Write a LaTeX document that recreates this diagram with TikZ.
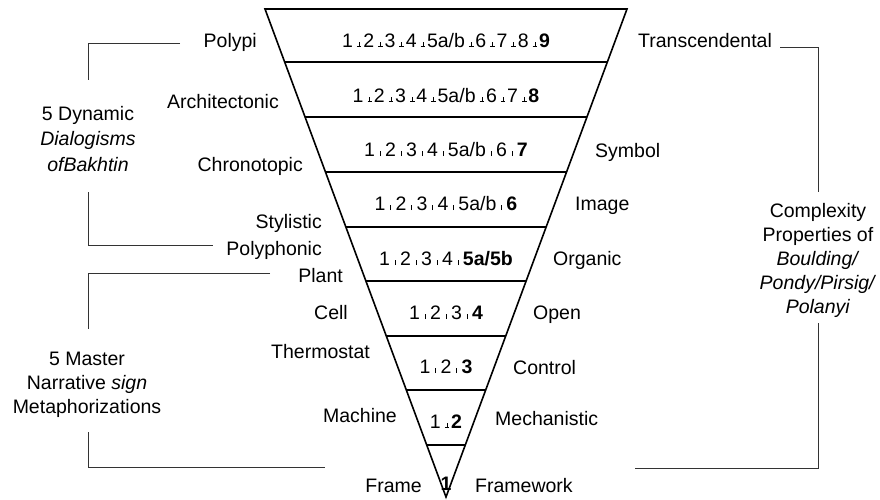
\documentclass[tikz,border=0pt]{standalone}
\usepackage{fontspec}
\setmainfont{Liberation Sans}

% small separators used between the level numbers
\newcommand{\tacksep}{\hspace{4pt}\rlap{\rule{4.6pt}{0.8pt}}\hspace{1.9pt}\rule{0.8pt}{4.6pt}\hspace{1.9pt}\hspace{1.8pt}}
\newcommand{\ticksep}{\hspace{4.8pt}\rule{0.9pt}{4.6pt}\hspace{4.4pt}}

\tikzset{
  lab/.style={font=\fontsize{19.5}{24}\selectfont, inner sep=0pt},
  rowtxt/.style={lab, anchor=base},
  lablft/.style={lab, anchor=base east},
  labrgt/.style={lab, anchor=base west},
  grouptxt/.style={lab, align=center},
  tri/.style={draw=black, line width=1.6pt, line join=miter},
  bracket/.style={draw=black!80, line width=1pt},
}

\begin{document}
\begin{tikzpicture}[x=1pt, y=-1pt]
\useasboundingbox (0,0) rectangle (880,499);

% inverted triangle with its level separators
\coordinate (tl) at (265,9);
\coordinate (tr) at (627,9);
\coordinate (apex) at (446,497);
\draw[tri] (tl) -- (tr) -- (apex) -- cycle;
\foreach \y in {62,117,172,227,281,336,390,445}
  \draw[tri] ({446-(497-\y)*0.371},\y) -- ({446+(497-\y)*0.371},\y);

% numbers inside each level
\node[rowtxt] (r9) at (446,47)  {1\tacksep2\tacksep3\tacksep4\tacksep5a/b\tacksep6\tacksep7\tacksep8\tacksep\textbf{9}};
\node[rowtxt] (r8) at (446,102) {1\tacksep2\tacksep3\tacksep4\tacksep5a/b\tacksep6\tacksep7\tacksep\textbf{8}};
\node[rowtxt] (r7) at (446,156) {1\ticksep2\ticksep3\ticksep4\ticksep5a/b\ticksep6\ticksep\textbf{7}};
\node[rowtxt] (r6) at (446,210) {1\ticksep2\ticksep3\ticksep4\ticksep5a/b\ticksep\textbf{6}};
\node[rowtxt] (r5) at (446,265) {1\ticksep2\ticksep3\ticksep4\ticksep\textbf{5a/5b}};
\node[rowtxt] (r4) at (446,319) {1\ticksep2\ticksep3\ticksep\textbf{4}};
\node[rowtxt] (r3) at (446,373) {1\ticksep2\ticksep\textbf{3}};
\node[rowtxt] (r2) at (446,428) {1\tacksep\textbf{2}};
\node[rowtxt] (r1) at (446,490) {\textbf{1}};

% left-hand level names
\node[lablft] (polypi)  at (257,47)  {Polypi};
\node[lablft] (archi)   at (279,108) {Architectonic};
\node[lablft] (chrono)  at (303,171) {Chronotopic};
\node[lablft] (stylis)  at (322,228) {Stylistic};
\node[lablft] (polyph)  at (322,255) {Polyphonic};
\node[lablft] (plant)   at (343,282) {Plant};
\node[lablft] (cell)    at (348,319) {Cell};
\node[lablft] (thermo)  at (370,358) {Thermostat};
\node[lablft] (machine) at (397,422) {Machine};
\node[lablft] (frame)   at (422,492) {Frame};

% right-hand level names
\node[labrgt] (transc)  at (638,47)  {Transcendental};
\node[labrgt] (symbol)  at (595,157) {Symbol};
\node[labrgt] (image)   at (575,210) {Image};
\node[labrgt] (organic) at (553,265) {Organic};
\node[labrgt] (open)    at (533,319) {Open};
\node[labrgt] (control) at (513,374) {Control};
\node[labrgt] (mech)    at (495,425) {Mechanistic};
\node[labrgt] (fwork)   at (475,492) {Framework};

% group captions
\node[grouptxt, font=\fontsize{19.5}{25.5}\selectfont] (bakhtin) at (88,139)
  {5 Dynamic\\\textit{Dialogisms}\\\textit{ofBakhtin}};
\node[grouptxt] (master) at (87,385)
  {5 Master\\Narrative \textit{sign}\\Metaphorizations};
\node[grouptxt] (complex) at (818,260)
  {Complexity\\Properties of\\\textit{Boulding/}\\\textit{Pondy/Pirsig/}\\\textit{Polanyi}};

% bracket ends and corners
\coordinate (bkA) at (180,43);  \coordinate (bkB) at (88,80);
\coordinate (bkC) at (88,192);  \coordinate (bkD) at (213,245);
\coordinate (msA) at (270,273); \coordinate (msB) at (88,329);
\coordinate (msC) at (88,432);  \coordinate (msD) at (325,467);
\coordinate (cxA) at (780,47);  \coordinate (cxB) at (818,192);
\coordinate (cxC) at (818,323); \coordinate (cxD) at (635,468);

\draw[bracket] (bkA) -| (bkB);
\draw[bracket] (bkC) |- (bkD);
\draw[bracket] (msA) -| (msB);
\draw[bracket] (msC) |- (msD);
\draw[bracket] (cxA) -| (cxB);
\draw[bracket] (cxC) |- (cxD);
\end{tikzpicture}
\end{document}
